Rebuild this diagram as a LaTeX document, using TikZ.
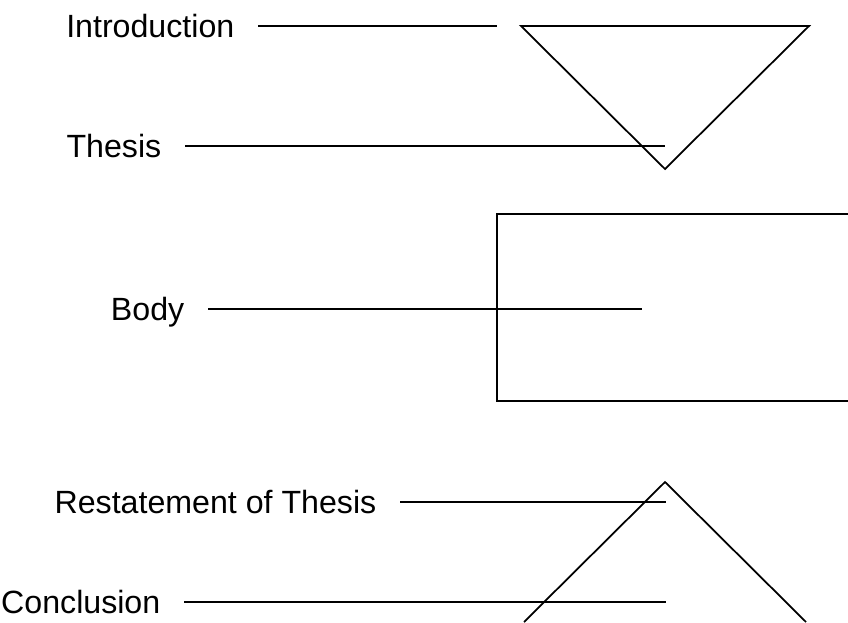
\documentclass[tikz,border=0pt]{standalone}
\usepackage{fontspec}
\setmainfont{Liberation Sans}

\begin{document}
\begin{tikzpicture}[x=0.02cm, y=-0.02cm, line width=1pt,
    tag/.style={anchor=east, inner xsep=13pt, inner ysep=0pt,
      text height=13.1pt, text depth=0pt, font=\fontsize{18.3}{22}\selectfont}]
  \useasboundingbox (0,0) rectangle (848,622);
  % Triangulo invertido
  \draw (521,26) -- (809,26) -- (665,169) -- cycle;
  % Rectangulo abierto
  \draw[line width=1.2pt] (848,214) -- (497,214) -- (497,401) -- (848,401);
  % Triangulo
  \draw (524,622) -- (665,482) -- (806,622);
  % Etiquetas
  \node[tag] (intro) at (258,26) {Introduction};
  \node[tag] (thesis) at (185,146) {Thesis};
  \node[tag] (body) at (208,309) {Body};
  \node[tag] (restate) at (400,502) {Restatement of Thesis};
  \node[tag] (concl) at (184,602) {Conclusion};
  \coordinate (introEnd) at (497,26);
  \coordinate (thesisEnd) at (665,146);
  \coordinate (bodyEnd) at (642,309);
  \coordinate (restateEnd) at (666,502);
  \coordinate (conclEnd) at (666,602);
  \draw (intro) -- (introEnd);
  \draw (thesis) -- (thesisEnd);
  \draw (body) -- (bodyEnd);
  \draw (restate) -- (restateEnd);
  \draw (concl) -- (conclEnd);
\end{tikzpicture}
\end{document}
